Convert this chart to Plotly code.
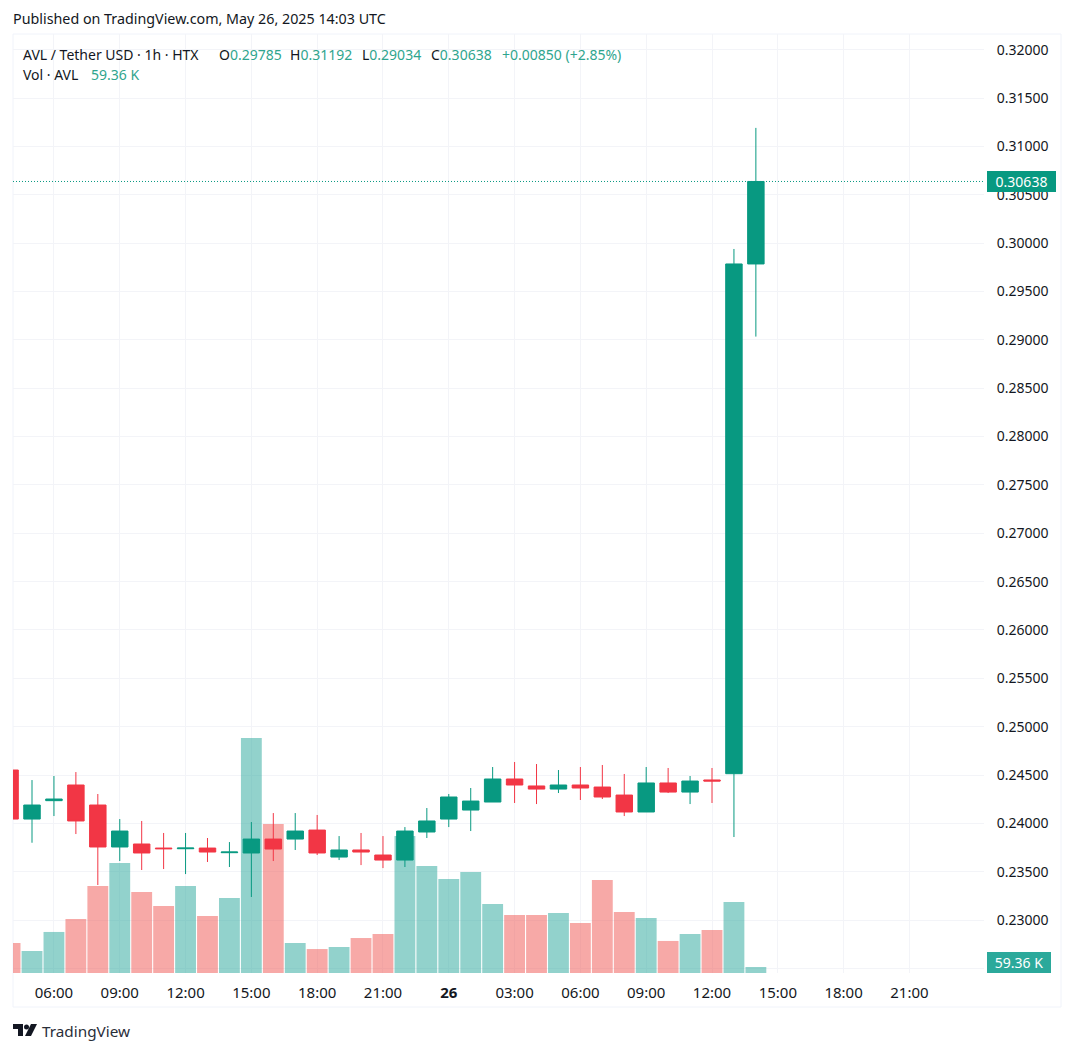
import plotly.graph_objects as go

W, H = 1074, 1052
L, R, T, B = 13, 984, 34, 973

times = ["2025-05-25 %02d:00" % h for h in range(4, 24)] + ["2025-05-26 %02d:00" % h for h in range(0, 15)]
opens = [.24552,.24045,.24235,.24397,.24190,.23756,.23787,.23745,.23738,.23745,.23697,.23694,.23838,.23838,.23931,.23652,.23725,.23673,.23621,.23911,.24045,.24138,.24221,.24459,.24387,.24355,.24397,.24376,.24293,.24118,.24418,.24324,.24449,.24514,.29785]
highs = [.24700,.24448,.24490,.24531,.24304,.24045,.24025,.23901,.23901,.23849,.23807,.24014,.24107,.24107,.24087,.23869,.23901,.23869,.23962,.24159,.24304,.24366,.24583,.24635,.24614,.24552,.24583,.24604,.24511,.24583,.24573,.24490,.24573,.29940,.31192]
lows = [.24000,.23800,.24076,.23890,.23363,.23611,.23518,.23528,.23476,.23601,.23549,.23239,.23611,.23725,.23673,.23621,.23569,.23538,.23549,.23849,.23962,.23921,.24221,.24211,.24200,.24314,.24242,.24252,.24076,.24118,.24314,.24200,.24211,.23859,.29034]
closes = [.24045,.24190,.24252,.24025,.23756,.23921,.23694,.23738,.23745,.23704,.23704,.23838,.23735,.23921,.23694,.23725,.23704,.23621,.23921,.24025,.24273,.24231,.24459,.24397,.24355,.24397,.24366,.24273,.24118,.24418,.24324,.24438,.24438,.29785,.30638]
volumes_k = [297,218,406,534,861,1088,801,663,861,564,742,2325,1474,297,237,257,346,386,1355,1059,930,999,683,574,574,594,495,920,604,544,317,386,425,702,59.36]

price_ticks = [.225,.23,.235,.24,.245,.25,.255,.26,.265,.27,.275,.28,.285,.29,.295,.30,.305,.31,.315,.32]
price_labels = [""] + ["%.5f" % v for v in price_ticks[1:]]
time_ticks = ["2025-05-25 06:00","2025-05-25 09:00","2025-05-25 12:00","2025-05-25 15:00","2025-05-25 18:00","2025-05-25 21:00","2025-05-26 00:00","2025-05-26 03:00","2025-05-26 06:00","2025-05-26 09:00","2025-05-26 12:00","2025-05-26 15:00","2025-05-26 18:00","2025-05-26 21:00"]
time_labels = ["06:00","09:00","12:00","15:00","18:00","21:00","<b>26</b>","03:00","06:00","09:00","12:00","15:00","18:00","21:00"]

GREEN, RED = "#089981", "#F23645"
INK, GRID, TXTG = "#131722", "#F3F4F8", "#2FA58E"
FONT = "Noto Sans"

def px(x): return (x - L) / (R - L)
def py(y): return (B - y) / (B - T)

vol_colors = ["rgba(38,166,154,0.5)" if c >= o else "rgba(239,83,80,0.5)" for o, c in zip(opens, closes)]

fig = go.Figure()
fig.add_bar(x=times, y=volumes_k, marker=dict(color=vol_colors, line_width=0), yaxis="y", hoverinfo="skip")
fig.add_candlestick(x=times, open=opens, high=highs, low=lows, close=closes, yaxis="y2", whiskerwidth=0,
    increasing=dict(line=dict(color=GREEN, width=1), fillcolor=GREEN),
    decreasing=dict(line=dict(color=RED, width=1), fillcolor=RED))

def note(x, y, text, color=INK, size=14, xshift=-2, **kw):
    fig.add_annotation(xref="paper", yref="paper", x=px(x), y=py(y), text=text, showarrow=False,
                       xanchor="left", yanchor="middle", xshift=xshift,
                       font=dict(family=FONT, size=size, color=color), **kw)

note(13, 19, "Published on TradingView.com, May 26, 2025 14:03 UTC", size=14.3)
note(23, 54, "AVL / Tether USD · 1h · HTX")
note(219, 54, f'O<span style="color:{TXTG}">{opens[-1]:.5f}</span>')
note(290, 54, f'H<span style="color:{TXTG}">{highs[-1]:.5f}</span>')
note(362, 54, f'L<span style="color:{TXTG}">{lows[-1]:.5f}</span>')
note(431, 54, f'C<span style="color:{TXTG}">{closes[-1]:.5f}</span>')
note(502, 54, "+0.00850 (+2.85%)", TXTG)
note(23, 75, "Vol · AVL")
note(91, 75, "59.36 K", TXTG)
note(987, 181.5, f"{closes[-1]:.5f}", "white", xshift=0, bgcolor=GREEN, width=69, height=21, align="center", borderpad=0, borderwidth=0)
note(987, 962.5, "59.36 K", "white", xshift=0, bgcolor="#2BA99B", width=64, height=21, align="center", borderpad=0, borderwidth=0)
note(42, 1031, "TradingView", "#2A2E39", size=15.3)

# pane frame
fig.add_shape(type="rect", xref="paper", yref="paper", x0=px(13), x1=px(1061), y0=py(1007), y1=py(34),
              line=dict(color="#F0F3FA", width=1), layer="below")
# last-price line
fig.add_shape(type="line", xref="paper", yref="y2", x0=0, x1=1, y0=closes[-1], y1=closes[-1],
              line=dict(color=GREEN, width=1, dash="1px,2px"))
# TradingView logo
def P(pts): return "M" + " L".join(f"{px(a):.5f},{py(b):.5f}" for a, b in pts) + " Z"
for path in [P([(13,1024),(23,1024),(23,1036),(18,1036),(18,1029),(13,1029)]),
             P([(31,1024),(37,1024),(31,1036),(25,1036)])]:
    fig.add_shape(type="path", xref="paper", yref="paper", path=path, fillcolor="#131722", line_width=0)
fig.add_shape(type="circle", xref="paper", yref="paper", x0=px(24), x1=px(29), y0=py(1029.5), y1=py(1024.5),
              fillcolor="#131722", line_width=0)

fig.update_layout(
    width=W, height=H, margin=dict(l=L, r=W - R, t=T, b=H - B, pad=0),
    paper_bgcolor="white", plot_bgcolor="white", showlegend=False, bargap=0.05, boxgap=0.25, boxgroupgap=0,
    font=dict(family=FONT, size=14, color=INK),
    xaxis=dict(type="date", range=["2025-05-25 04:08", "2025-05-27 00:24"], rangeslider_visible=False,
               tickmode="array", tickvals=time_ticks, ticktext=time_labels, showgrid=True, gridcolor=GRID,
               gridwidth=1, zeroline=False, showline=False, ticks="outside", ticklen=6, tickcolor="rgba(0,0,0,0)",
               tickfont=dict(size=15)),
    yaxis=dict(range=[0, 9290], visible=False, showgrid=False, zeroline=False),
    yaxis2=dict(overlaying="y", side="right", range=[.22453, .32163], tickmode="array", tickvals=price_ticks,
                ticktext=price_labels, showgrid=True, gridcolor=GRID, gridwidth=1, zeroline=False, showline=False,
                ticks="outside", ticklen=9, tickcolor="rgba(0,0,0,0)"),
)
fig.write_html("out.html", config={"displayModeBar": False}, post_script="document.body.style.margin='0';")
